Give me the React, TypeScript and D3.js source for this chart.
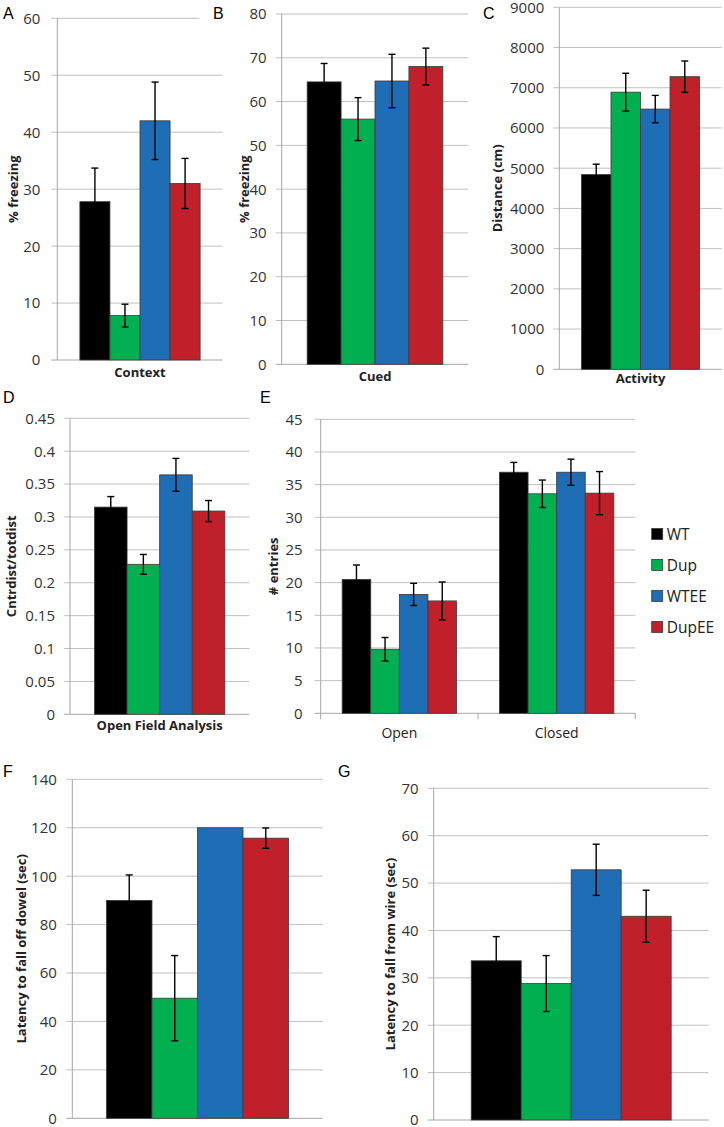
import React from 'react';
import * as d3 from 'd3';

const groups = ['WT', 'Dup', 'WTEE', 'DupEE'];
const groupColors = ['#000000', '#00b050', '#1f6db5', '#c0202a'];

const contextCategories = ['Context'];
const contextMeans = [27.8, 7.8, 42, 31];
const contextErr = [5.9, 2.0, 6.8, 4.4];
const contextTicks = [0, 10, 20, 30, 40, 50, 60];

const cuedCategories = ['Cued'];
const cuedMeans = [64.5, 56.0, 64.7, 68.0];
const cuedErr = [4.2, 4.9, 6.1, 4.2];
const cuedTicks = [0, 10, 20, 30, 40, 50, 60, 70, 80];

const activityCategories = ['Activity'];
const activityMeans = [4840, 6890, 6470, 7275];
const activityErr = [260, 470, 340, 390];
const activityTicks = [0, 1000, 2000, 3000, 4000, 5000, 6000, 7000, 8000, 9000];

const openFieldCategories = ['Open Field Analysis'];
const openFieldMeans = [0.315, 0.228, 0.364, 0.309];
const openFieldErr = [0.016, 0.015, 0.025, 0.016];
const openFieldTicks = [0, 0.05, 0.1, 0.15, 0.2, 0.25, 0.3, 0.35, 0.4, 0.45];

const entriesCategories = ['Open', 'Closed'];
const entriesOpenMeans = [20.5, 9.8, 18.2, 17.2];
const entriesOpenErr = [2.2, 1.8, 1.7, 2.9];
const entriesClosedMeans = [36.9, 33.6, 36.9, 33.7];
const entriesClosedErr = [1.5, 2.1, 2.0, 3.3];
const entriesTicks = [0, 5, 10, 15, 20, 25, 30, 35, 40, 45];

const dowelCategories = [''];
const dowelMeans = [90, 49.6, 120, 115.7];
const dowelErr = [10.5, 17.6, 0, 4.2];
const dowelTicks = [0, 20, 40, 60, 80, 100, 120, 140];

const wireCategories = [''];
const wireMeans = [33.6, 28.8, 52.8, 43.0];
const wireErr = [5.1, 5.9, 5.4, 5.5];
const wireTicks = [0, 10, 20, 30, 40, 50, 60, 70];

type Panel = {
  letter: string; letterX: number; letterY: number;
  x0: number; x1: number; yTop: number; y0: number;
  ticks: number[]; yTitle: string; titleX: number;
  cats: string[]; means: number[][]; errs: number[][];
  catDy: number; catBold: boolean; catTicks?: boolean; labelGap: number;
};

const panels: Panel[] = [
  { letter: 'A', letterX: 3, letterY: 18.5, x0: 57.3, x1: 222.7, yTop: 18.3, y0: 360, ticks: contextTicks,
    yTitle: '% freezing', titleX: 13.3, cats: contextCategories, means: [contextMeans], errs: [contextErr], catDy: 17, catBold: true, labelGap: 17 },
  { letter: 'B', letterX: 213, letterY: 18.5, x0: 281.7, x1: 468.3, yTop: 14, y0: 364.3, ticks: cuedTicks,
    yTitle: '% freezing', titleX: 244, cats: cuedCategories, means: [cuedMeans], errs: [cuedErr], catDy: 17, catBold: true, labelGap: 15 },
  { letter: 'C', letterX: 483, letterY: 19, x0: 559.3, x1: 721.7, yTop: 7.3, y0: 369.3, ticks: activityTicks,
    yTitle: 'Distance (cm)', titleX: 496.5, cats: activityCategories, means: [activityMeans], errs: [activityErr], catDy: 14, catBold: true, labelGap: 15 },
  { letter: 'D', letterX: 3, letterY: 403, x0: 70, x1: 249.3, yTop: 418.3, y0: 714.3, ticks: openFieldTicks,
    yTitle: 'Cntrdist/totdist', titleX: 11, cats: openFieldCategories, means: [openFieldMeans], errs: [openFieldErr], catDy: 16, catBold: true, labelGap: 15 },
  { letter: 'E', letterX: 260, letterY: 403, x0: 320.7, x1: 635.3, yTop: 419.3, y0: 713.3, ticks: entriesTicks,
    yTitle: '# entries', titleX: 273, cats: entriesCategories, means: [entriesOpenMeans, entriesClosedMeans],
    errs: [entriesOpenErr, entriesClosedErr], catDy: 25, catBold: false, catTicks: true, labelGap: 18 },
  { letter: 'F', letterX: 3, letterY: 777, x0: 72.3, x1: 322.7, yTop: 779.3, y0: 1118.3, ticks: dowelTicks,
    yTitle: 'Latency to fall off dowel (sec)', titleX: 21, cats: dowelCategories, means: [dowelMeans], errs: [dowelErr], catDy: 17, catBold: true, labelGap: 15.5 },
  { letter: 'G', letterX: 338, letterY: 777, x0: 433.7, x1: 708.7, yTop: 788.3, y0: 1120, ticks: wireTicks,
    yTitle: 'Latency to fall from wire (sec)', titleX: 390, cats: wireCategories, means: [wireMeans], errs: [wireErr], catDy: 17, catBold: true, labelGap: 15 },
];

const FONT = "'Open Sans', sans-serif";
const GRID = '#c0c0c0';
const AXIS = '#a6a6a6';

function PanelView({ p }: { p: Panel }) {
  const maxV = p.ticks[p.ticks.length - 1];
  const y = d3.scaleLinear().domain([0, maxV]).range([p.y0, p.yTop]);
  const xCat = d3.scaleBand<string>().domain(p.cats.map((c, i) => c + '#' + i)).range([p.x0, p.x1]).padding(0);
  const bw = xCat.bandwidth();
  const groupFrac = 0.727;
  return (
    <g>
      {p.ticks.map((t) => (
        <g key={t}>
          <line x1={p.x0 - 6} x2={p.x1} y1={y(t)} y2={y(t)} stroke={t === 0 ? AXIS : GRID} strokeWidth={1} />
          <text x={p.x0 - p.labelGap} y={y(t)} dy="0.36em" textAnchor="end" fontFamily={FONT} fontSize={15} fill="#333">
            {String(t)}
          </text>
        </g>
      ))}
      <line x1={p.x0} x2={p.x0} y1={p.yTop} y2={p.y0 + (p.catTicks ? 6 : 0)} stroke={AXIS} strokeWidth={1} />
      {p.catTicks && p.cats.map((c, i) => (
        <line key={'ct' + i} x1={(xCat(c + '#' + i) as number) + bw} x2={(xCat(c + '#' + i) as number) + bw}
          y1={p.y0} y2={p.y0 + 6} stroke={AXIS} strokeWidth={1} />
      ))}
      {p.cats.map((c, ci) => {
        const bandStart = xCat(c + '#' + ci) as number;
        const inner = d3.scaleBand<string>().domain(groups)
          .range([bandStart + bw * (1 - groupFrac) / 2, bandStart + bw * (1 + groupFrac) / 2]).padding(0);
        const ib = inner.bandwidth();
        return (
          <g key={'c' + ci}>
            {groups.map((g, gi) => {
              const v = p.means[ci][gi];
              const e = p.errs[ci][gi];
              const bx = inner(g) as number;
              const cx = bx + ib / 2;
              return (
                <g key={g}>
                  <rect x={bx} y={y(v)} width={ib} height={p.y0 - y(v)} fill={groupColors[gi]} stroke="#3a3a3a" strokeWidth={0.8} />
                  {e > 0 && (
                    <g stroke="#000" strokeWidth={1.4}>
                      <line x1={cx} x2={cx} y1={y(v + e)} y2={y(v - e)} />
                      <line x1={cx - 3.5} x2={cx + 3.5} y1={y(v + e)} y2={y(v + e)} />
                      <line x1={cx - 3.5} x2={cx + 3.5} y1={y(v - e)} y2={y(v - e)} />
                    </g>
                  )}
                </g>
              );
            })}
            {c && (
              <text x={bandStart + bw / 2} y={p.y0 + p.catDy} textAnchor="middle" fontFamily={FONT}
                fontSize={p.catBold ? 13 : 14} fontWeight={p.catBold ? 'bold' : 'normal'} fill="#222">
                {c}
              </text>
            )}
          </g>
        );
      })}
      <text transform={`translate(${p.titleX},${(p.yTop + p.y0) / 2}) rotate(-90)`} textAnchor="middle"
        dominantBaseline="central" fontFamily={FONT} fontSize={13} fontWeight="bold" fill="#222">
        {p.yTitle}
      </text>
    </g>
  );
}

export default function App() {
  const legendY = [534, 565, 596, 627];
  return (
    <svg width={724} height={1127} style={{ position: 'absolute', left: 0, top: 0, background: '#fff' }}>
      <rect x={0} y={0} width={724} height={1127} fill="#fff" />
      {panels.map((p) => <PanelView key={p.letter} p={p} />)}
      <rect x={199.5} y={0} width={28} height={26} fill="#fff" />
      {panels.map((p) => (
        <text key={'L' + p.letter} x={p.letterX} y={p.letterY} fontFamily="'Liberation Sans', Arial, sans-serif" fontSize={16} fill="#000">
          {p.letter}
        </text>
      ))}
      {groups.map((g, i) => (
        <g key={'lg' + g}>
          <rect x={651.7} y={legendY[i] - 5.5} width={11} height={11} fill={groupColors[i]} stroke="#3a3a3a" strokeWidth={0.8} />
          <text x={666.7} y={legendY[i]} dy="0.36em" fontFamily={FONT} fontSize={15.5} fill="#222">{g}</text>
        </g>
      ))}
    </svg>
  );
}
